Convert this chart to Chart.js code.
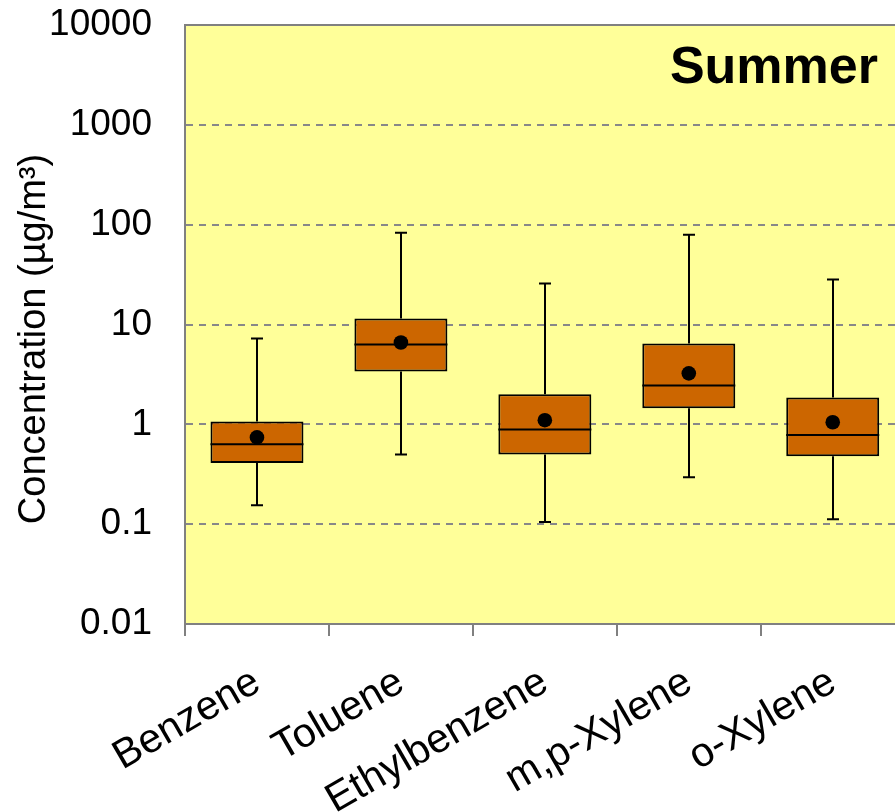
<!DOCTYPE html>
<html>
<head>
<meta charset="utf-8">
<script src="https://cdn.jsdelivr.net/npm/chart.js@4/dist/chart.umd.min.js"></script>
<style>
  html, body { margin: 0; padding: 0; background: #ffffff; overflow: hidden; }
  #wrap { width: 912px; height: 812px; position: relative; }
</style>
</head>
<body>
<div id="wrap"><canvas id="chart"></canvas></div>
<script>
// Summer concentrations of BTEX compounds (µg/m³)
const categories   = ['Benzene', 'Toluene', 'Ethylbenzene', 'm,p-Xylene', 'o-Xylene'];
const whiskerLow   = [0.155, 0.50, 0.105, 0.295, 0.112];
const quartile1    = [0.41, 3.39, 0.50, 1.45, 0.48];
const medians      = [0.63, 6.30, 0.89, 2.45, 0.78];
const quartile3    = [1.07, 11.5, 2.00, 6.46, 1.86];
const whiskerHigh  = [7.24, 83.0, 25.7, 79.4, 28.2];
const means        = [0.74, 6.60, 1.10, 3.24, 1.05];
const yTicks       = [0.01, 0.1, 1, 10, 100, 1000, 10000];
const seasonLabel  = 'Summer';
const yAxisTitle   = 'Concentration (µg/m³)';

const FONT = "'Liberation Sans', Arial, sans-serif";
const GREY = '#808080';

// Yellow plot background, solid top frame line, season label and axis title
const plotFrame = {
  id: 'plotFrame',
  beforeDraw(chart) {
    const { ctx, chartArea: a } = chart;
    ctx.save();
    ctx.fillStyle = '#FFFF99';
    ctx.fillRect(a.left, a.top, a.right - a.left, a.bottom - a.top);
    ctx.restore();
  },
  afterDraw(chart) {
    const { ctx, chartArea: a } = chart;
    ctx.save();
    ctx.strokeStyle = GREY;
    ctx.lineWidth = 2;
    ctx.beginPath();
    ctx.moveTo(a.left - 1, a.top);
    ctx.lineTo(a.right, a.top);
    ctx.stroke();
    // season label in the upper right corner
    ctx.fillStyle = '#000';
    ctx.font = 'bold 52px ' + FONT;
    ctx.textAlign = 'right';
    ctx.textBaseline = 'middle';
    ctx.fillText(seasonLabel, 878, a.top + 44);
    // vertical axis title
    ctx.translate(35, 339);
    ctx.rotate(-Math.PI / 2);
    ctx.font = '38px ' + FONT;
    ctx.textAlign = 'center';
    ctx.fillText(yAxisTitle, 0, 0);
    ctx.restore();
  }
};

// Whiskers, caps and median lines drawn right after the boxes
const boxWhiskers = {
  id: 'boxWhiskers',
  afterDatasetDraw(chart, args) {
    if (args.index !== 0) return;
    const { ctx, scales: { y } } = chart;
    const bars = args.meta.data;
    ctx.save();
    ctx.strokeStyle = '#000';
    ctx.lineWidth = 2;
    bars.forEach((bar, i) => {
      const x = Math.round(bar.x);
      const half = bar.width / 2;
      const capHalf = 6;
      const yMin = y.getPixelForValue(whiskerLow[i]);
      const yQ1 = y.getPixelForValue(quartile1[i]);
      const yQ3 = y.getPixelForValue(quartile3[i]);
      const yMax = y.getPixelForValue(whiskerHigh[i]);
      const yMed = y.getPixelForValue(medians[i]);
      ctx.beginPath();
      ctx.moveTo(x, yQ3); ctx.lineTo(x, yMax);
      ctx.moveTo(x - capHalf, yMax); ctx.lineTo(x + capHalf, yMax);
      ctx.moveTo(x, yQ1); ctx.lineTo(x, yMin);
      ctx.moveTo(x - capHalf, yMin); ctx.lineTo(x + capHalf, yMin);
      ctx.moveTo(bar.x - half, yMed); ctx.lineTo(bar.x + half, yMed);
      ctx.stroke();
    });
    ctx.restore();
  }
};

new Chart(document.getElementById('chart'), {
  data: {
    labels: categories,
    datasets: [
      {
        type: 'bar',
        label: 'Interquartile range',
        data: quartile1.map((q, i) => [q, quartile3[i]]),
        backgroundColor: '#CC6600',
        borderColor: '#000000',
        borderWidth: 2,
        borderSkipped: false,
        categoryPercentage: 1,
        barPercentage: 0.646,
        order: 2
      },
      {
        type: 'line',
        label: 'Mean',
        data: means,
        showLine: false,
        pointRadius: 7.3,
        pointHoverRadius: 7.3,
        pointBackgroundColor: '#000000',
        pointBorderWidth: 0,
        order: 1
      }
    ]
  },
  options: {
    responsive: true,
    maintainAspectRatio: false,
    animation: false,
    devicePixelRatio: 1,
    layout: { padding: { top: 25, left: 0, right: 0, bottom: 0 } },
    plugins: { legend: { display: false }, tooltip: { enabled: false } },
    scales: {
      x: {
        type: 'category',
        offset: true,
        grid: {
          offset: true,
          drawOnChartArea: false,
          drawTicks: true,
          tickLength: 12,
          color: GREY,
          lineWidth: 2
        },
        border: { display: true, color: GREY, width: 2 },
        ticks: {
          color: '#000',
          font: { family: FONT, size: 41 },
          minRotation: 30,
          maxRotation: 30,
          autoSkip: false,
          padding: 22
        },
        afterFit(scale) {
          scale.height = 188;
          scale.paddingLeft = 0; scale.paddingRight = 0;
        }
      },
      y: {
        type: 'logarithmic',
        min: 0.01,
        max: 10000,
        afterBuildTicks(scale) { scale.ticks = yTicks.map(v => ({ value: v })); },
        grid: {
          drawTicks: false,
          lineWidth: 2,
          color: c => (c.tick && (c.tick.value === yTicks[0] || c.tick.value === yTicks[yTicks.length - 1])) ? 'rgba(0,0,0,0)' : '#888888'
        },
        border: { display: true, color: GREY, width: 2, dash: [7, 6] },
        ticks: {
          color: '#000',
          font: { family: FONT, size: 37 },
          padding: 33,
          callback: v => String(v)
        },
        title: { display: false },
        afterFit(scale) {
          scale.width = 185;
          scale.paddingTop = 0; scale.paddingBottom = 0;
        }
      }
    }
  },
  plugins: [plotFrame, boxWhiskers]
});
</script>
</body>
</html>
